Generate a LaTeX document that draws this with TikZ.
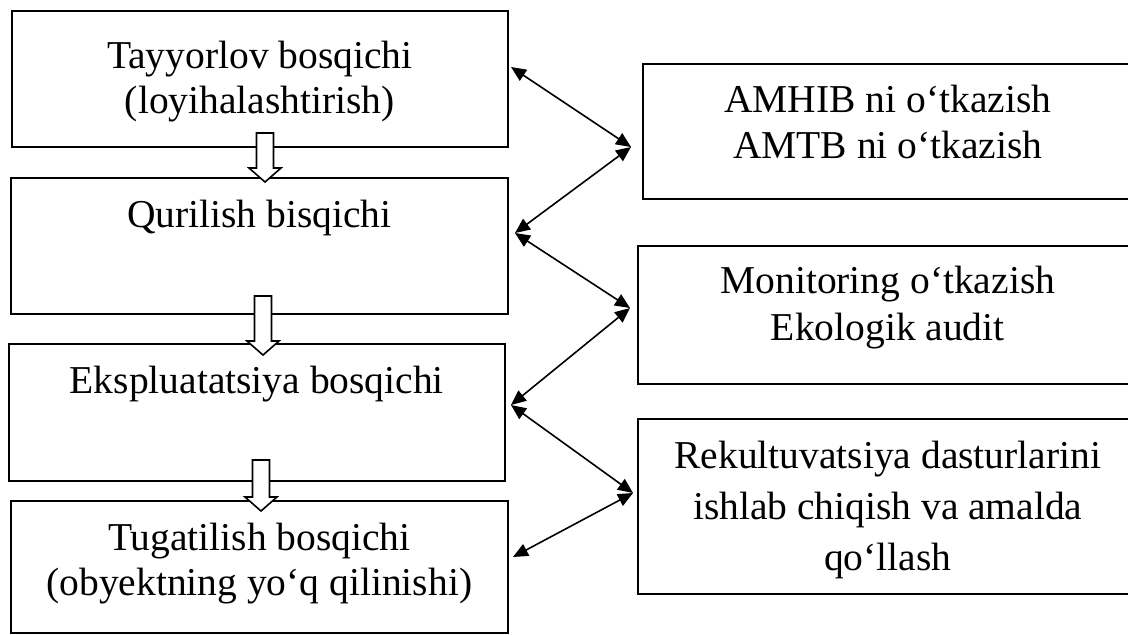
\documentclass[tikz,border=0pt]{standalone}
\usepackage{fontspec}
\setmainfont{Liberation Serif}
\usetikzlibrary{arrows.meta,positioning}
\tikzset{
  stagebox/.style={draw, line width=1.6pt, inner sep=0pt, anchor=north west},
  stagetext/.style={anchor=north, inner sep=0pt, align=center, font=\fontsize{39.5}{45}\selectfont},
  link/.style={{Triangle[length=15pt,width=13pt]}-{Triangle[length=15pt,width=13pt]}, line width=1.6pt},
  hollow/.style={draw, fill=white, line width=1.6pt, line join=miter}
}
\begin{document}
\begin{tikzpicture}[x=1pt,y=-1pt]
\useasboundingbox (0,0) rectangle (1128,635);
\clip (0,0) rectangle (1128,635);
% stages on the left
\node[stagebox, minimum width=496pt, minimum height=136pt] (b1) at (11,10) {};
\node[stagebox, minimum width=497pt, minimum height=136pt] (b2) at (10,177) {};
\node[stagebox, minimum width=496pt, minimum height=137pt] (b3) at (8,343) {};
\node[stagebox, minimum width=497pt, minimum height=132pt] (b4) at (10,500) {};
\node[stagetext, yshift=-31pt] (t1) at (b1.north) {Tayyorlov bosqichi\\(loyihalashtirish)};
\node[stagetext, yshift=-23pt] (t2) at (b2.north) {Qurilish bisqichi};
\node[stagetext, yshift=-23pt] (t3) at (b3.north) {Ekspluatatsiya bosqichi};
\node[stagetext, yshift=-23pt] (t4) at (b4.north) {Tugatilish bosqichi\\(obyektning yo‘q qilinishi)};
% measures on the right
\node[stagebox, minimum width=490pt, minimum height=135pt] (r1) at (642,63) {};
\node[stagebox, minimum width=500pt, minimum height=138pt] (r2) at (637,245) {};
\node[stagebox, minimum width=500pt, minimum height=175pt] (r3) at (637,418) {};
\node[stagetext, font=\fontsize{39.5}{46}\selectfont, yshift=-22pt] (s1) at (r1.north) {AMHIB ni o‘tkazish\\AMTB ni o‘tkazish};
\node[stagetext, font=\fontsize{39.5}{47}\selectfont, yshift=-21pt] (s2) at (r2.north) {Monitoring o‘tkazish\\Ekologik audit};
\node[stagetext, font=\fontsize{39.5}{51}\selectfont, yshift=-23pt] (s3) at (r3.north) {Rekultuvatsiya dasturlarini\\ishlab chiqish va amalda\\qo‘llash};
% hollow arrows between stages
\foreach \x/\ya/\yb in {265/133/182, 263/296/355, 261/460/511}
  \draw[hollow] ({\x-8.5},\ya) -- ({\x+8.5},\ya) -- ({\x+8.5},{\yb-14}) -- ({\x+16},{\yb-14})
    -- (\x,\yb) -- ({\x-16},{\yb-14}) -- ({\x-8.5},{\yb-14}) -- cycle;
% links
\coordinate (p1) at (511,67);
\coordinate (p2) at (515,233);
\coordinate (p3) at (511,405);
\coordinate (p4) at (513,557);
\coordinate (q1) at (631,147);
\coordinate (q2) at (630,308);
\coordinate (q3) at (633,493);
\draw[link] (q1) -- (p1);
\draw[link] (q1) -- (p2);
\draw[link] (q2) -- (p2);
\draw[link] (q2) -- (p3);
\draw[link] (q3) -- (p3);
\draw[link] (q3) -- (p4);
\end{tikzpicture}
\end{document}
